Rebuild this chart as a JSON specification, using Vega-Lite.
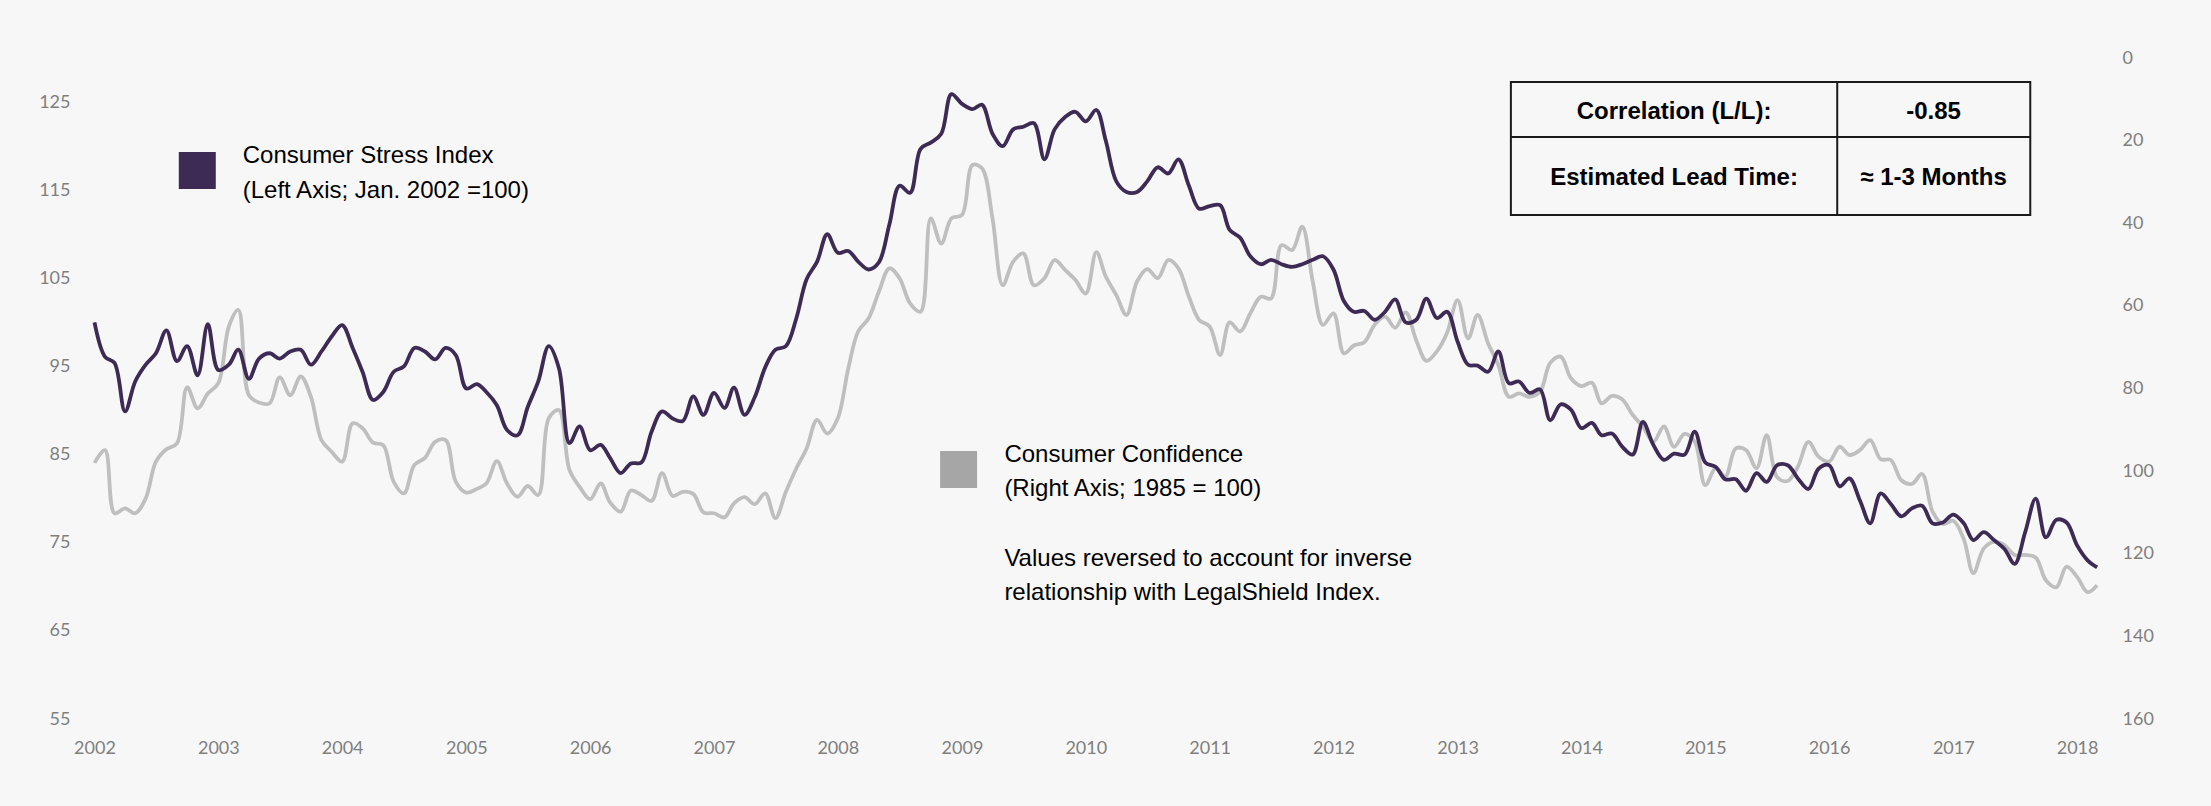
{
  "$schema": "https://vega.github.io/schema/vega-lite/v6.json",
  "width": 2025,
  "height": 661,
  "autosize": {"type": "none"},
  "padding": {"left": 85, "top": 58, "right": 101, "bottom": 87},
  "background": "#f7f7f7",
  "config": {
    "view": {"stroke": null},
    "axis": {"domain": false, "ticks": false, "grid": false, "title": null, "labelFont": "Lato", "labelFontSize": 18, "labelColor": "#7f7f7f"}
  },
  "data": {"values": [
    {"month":"2002-01","stress":100.0,"confidence":98.0},{"month":"2002-02","stress":96.1,"confidence":94.9},{"month":"2002-03","stress":95.4,"confidence":110.2},{"month":"2002-04","stress":89.9,"confidence":109.0},{"month":"2002-05","stress":93.3,"confidence":110.2},{"month":"2002-06","stress":95.2,"confidence":106.6},{"month":"2002-07","stress":96.5,"confidence":97.7},{"month":"2002-08","stress":99.1,"confidence":94.7},{"month":"2002-09","stress":95.6,"confidence":93.3},{"month":"2002-10","stress":97.3,"confidence":79.7},{"month":"2002-11","stress":94.0,"confidence":84.8},{"month":"2002-12","stress":99.8,"confidence":81.2},
    {"month":"2003-01","stress":94.6,"confidence":78.7},{"month":"2003-02","stress":95.2,"confidence":65.0},{"month":"2003-03","stress":96.9,"confidence":61.0},{"month":"2003-04","stress":93.6,"confidence":81.6},{"month":"2003-05","stress":95.9,"confidence":83.4},{"month":"2003-06","stress":96.5,"confidence":83.6},{"month":"2003-07","stress":95.9,"confidence":77.3},{"month":"2003-08","stress":96.7,"confidence":81.6},{"month":"2003-09","stress":96.9,"confidence":77.1},{"month":"2003-10","stress":95.2,"confidence":82.0},{"month":"2003-11","stress":96.7,"confidence":92.5},{"month":"2003-12","stress":98.4,"confidence":95.3},
    {"month":"2004-01","stress":99.7,"confidence":97.7},{"month":"2004-02","stress":97.1,"confidence":88.4},{"month":"2004-03","stress":94.4,"confidence":89.6},{"month":"2004-04","stress":91.2,"confidence":93.1},{"month":"2004-05","stress":92.1,"confidence":93.7},{"month":"2004-06","stress":94.4,"confidence":102.6},{"month":"2004-07","stress":95.0,"confidence":105.4},{"month":"2004-08","stress":97.1,"confidence":98.5},{"month":"2004-09","stress":96.7,"confidence":96.8},{"month":"2004-10","stress":95.8,"confidence":92.9},{"month":"2004-11","stress":97.1,"confidence":92.5},{"month":"2004-12","stress":96.3,"confidence":102.6},
    {"month":"2005-01","stress":92.5,"confidence":105.2},{"month":"2005-02","stress":93.0,"confidence":104.3},{"month":"2005-03","stress":92.1,"confidence":103.0},{"month":"2005-04","stress":90.6,"confidence":97.6},{"month":"2005-05","stress":87.8,"confidence":103.0},{"month":"2005-06","stress":87.2,"confidence":106.2},{"month":"2005-07","stress":90.4,"confidence":103.6},{"month":"2005-08","stress":93.3,"confidence":105.8},{"month":"2005-09","stress":97.3,"confidence":87.2},{"month":"2005-10","stress":94.8,"confidence":85.2},{"month":"2005-11","stress":86.3,"confidence":99.7},{"month":"2005-12","stress":88.2,"confidence":103.8},
    {"month":"2006-01","stress":85.5,"confidence":106.8},{"month":"2006-02","stress":86.1,"confidence":103.0},{"month":"2006-03","stress":84.6,"confidence":107.6},{"month":"2006-04","stress":82.9,"confidence":109.8},{"month":"2006-05","stress":84.0,"confidence":104.7},{"month":"2006-06","stress":84.1,"confidence":105.8},{"month":"2006-07","stress":87.6,"confidence":107.2},{"month":"2006-08","stress":89.9,"confidence":100.5},{"month":"2006-09","stress":89.1,"confidence":106.0},{"month":"2006-10","stress":88.8,"confidence":105.0},{"month":"2006-11","stress":91.6,"confidence":105.5},{"month":"2006-12","stress":89.5,"confidence":110.0},
    {"month":"2007-01","stress":92.0,"confidence":110.2},{"month":"2007-02","stress":90.3,"confidence":111.2},{"month":"2007-03","stress":92.6,"confidence":107.8},{"month":"2007-04","stress":89.5,"confidence":106.3},{"month":"2007-05","stress":91.5,"confidence":108.0},{"month":"2007-06","stress":94.9,"confidence":105.4},{"month":"2007-07","stress":96.9,"confidence":111.4},{"month":"2007-08","stress":97.3,"confidence":105.0},{"month":"2007-09","stress":100.5,"confidence":99.3},{"month":"2007-10","stress":104.9,"confidence":94.5},{"month":"2007-11","stress":106.9,"confidence":87.6},{"month":"2007-12","stress":110.0,"confidence":90.9},
    {"month":"2008-01","stress":107.9,"confidence":87.2},{"month":"2008-02","stress":108.1,"confidence":75.1},{"month":"2008-03","stress":106.9,"confidence":66.2},{"month":"2008-04","stress":106.0,"confidence":63.0},{"month":"2008-05","stress":106.8,"confidence":56.6},{"month":"2008-06","stress":111.1,"confidence":50.9},{"month":"2008-07","stress":115.5,"confidence":53.3},{"month":"2008-08","stress":114.7,"confidence":59.4},{"month":"2008-09","stress":119.7,"confidence":61.4},{"month":"2008-10","stress":120.4,"confidence":38.8},{"month":"2008-11","stress":121.4,"confidence":44.9},{"month":"2008-12","stress":125.9,"confidence":38.8},
    {"month":"2009-01","stress":124.8,"confidence":38.0},{"month":"2009-02","stress":124.2,"confidence":25.9},{"month":"2009-03","stress":124.7,"confidence":26.7},{"month":"2009-04","stress":121.4,"confidence":38.8},{"month":"2009-05","stress":120.0,"confidence":55.0},{"month":"2009-06","stress":121.9,"confidence":49.3},{"month":"2009-07","stress":122.2,"confidence":47.3},{"month":"2009-08","stress":122.6,"confidence":55.0},{"month":"2009-09","stress":118.5,"confidence":53.3},{"month":"2009-10","stress":121.9,"confidence":48.9},{"month":"2009-11","stress":123.3,"confidence":51.3},{"month":"2009-12","stress":123.9,"confidence":53.7},
    {"month":"2010-01","stress":122.8,"confidence":57.0},{"month":"2010-02","stress":124.1,"confidence":47.0},{"month":"2010-03","stress":120.6,"confidence":52.9},{"month":"2010-04","stress":116.0,"confidence":57.4},{"month":"2010-05","stress":114.8,"confidence":62.2},{"month":"2010-06","stress":114.8,"confidence":54.1},{"month":"2010-07","stress":116.0,"confidence":51.1},{"month":"2010-08","stress":117.6,"confidence":53.3},{"month":"2010-09","stress":116.9,"confidence":48.9},{"month":"2010-10","stress":118.5,"confidence":50.9},{"month":"2010-11","stress":115.5,"confidence":57.8},{"month":"2010-12","stress":112.9,"confidence":63.4},
    {"month":"2011-01","stress":113.2,"confidence":65.0},{"month":"2011-02","stress":113.3,"confidence":71.9},{"month":"2011-03","stress":110.5,"confidence":64.0},{"month":"2011-04","stress":109.6,"confidence":66.2},{"month":"2011-05","stress":107.5,"confidence":61.8},{"month":"2011-06","stress":106.6,"confidence":57.8},{"month":"2011-07","stress":107.1,"confidence":58.2},{"month":"2011-08","stress":106.6,"confidence":45.3},{"month":"2011-09","stress":106.3,"confidence":46.5},{"month":"2011-10","stress":106.6,"confidence":40.8},{"month":"2011-11","stress":107.1,"confidence":54.1},{"month":"2011-12","stress":107.5,"confidence":64.6},
    {"month":"2012-01","stress":106.0,"confidence":61.8},{"month":"2012-02","stress":102.4,"confidence":71.5},{"month":"2012-03","stress":101.2,"confidence":69.6},{"month":"2012-04","stress":101.3,"confidence":68.8},{"month":"2012-05","stress":100.3,"confidence":64.6},{"month":"2012-06","stress":101.2,"confidence":62.6},{"month":"2012-07","stress":102.6,"confidence":65.3},{"month":"2012-08","stress":100.0,"confidence":61.6},{"month":"2012-09","stress":100.3,"confidence":68.3},{"month":"2012-10","stress":102.7,"confidence":73.3},{"month":"2012-11","stress":100.5,"confidence":71.0},{"month":"2012-12","stress":101.2,"confidence":66.5},
    {"month":"2013-01","stress":97.8,"confidence":58.6},{"month":"2013-02","stress":95.2,"confidence":67.9},{"month":"2013-03","stress":95.1,"confidence":62.2},{"month":"2013-04","stress":94.4,"confidence":69.1},{"month":"2013-05","stress":96.7,"confidence":74.3},{"month":"2013-06","stress":93.1,"confidence":82.0},{"month":"2013-07","stress":93.3,"confidence":81.2},{"month":"2013-08","stress":92.0,"confidence":82.0},{"month":"2013-09","stress":92.4,"confidence":80.8},{"month":"2013-10","stress":88.9,"confidence":73.8},{"month":"2013-11","stress":90.7,"confidence":72.3},{"month":"2013-12","stress":90.1,"confidence":77.5},
    {"month":"2014-01","stress":88.0,"confidence":79.4},{"month":"2014-02","stress":88.6,"confidence":78.6},{"month":"2014-03","stress":87.2,"confidence":83.6},{"month":"2014-04","stress":87.4,"confidence":81.8},{"month":"2014-05","stress":85.9,"confidence":82.6},{"month":"2014-06","stress":85.0,"confidence":86.4},{"month":"2014-07","stress":88.7,"confidence":89.2},{"month":"2014-08","stress":86.1,"confidence":92.9},{"month":"2014-09","stress":84.4,"confidence":89.2},{"month":"2014-10","stress":85.1,"confidence":94.1},{"month":"2014-11","stress":85.0,"confidence":91.0},{"month":"2014-12","stress":87.6,"confidence":92.9},
    {"month":"2015-01","stress":84.1,"confidence":103.4},{"month":"2015-02","stress":83.6,"confidence":99.3},{"month":"2015-03","stress":82.2,"confidence":101.3},{"month":"2015-04","stress":82.2,"confidence":94.5},{"month":"2015-05","stress":80.9,"confidence":94.9},{"month":"2015-06","stress":82.9,"confidence":99.3},{"month":"2015-07","stress":81.9,"confidence":91.3},{"month":"2015-08","stress":83.8,"confidence":101.5},{"month":"2015-09","stress":83.8,"confidence":102.4},{"month":"2015-10","stress":82.3,"confidence":98.9},{"month":"2015-11","stress":81.1,"confidence":92.9},{"month":"2015-12","stress":83.4,"confidence":96.5},
    {"month":"2016-01","stress":83.8,"confidence":97.7},{"month":"2016-02","stress":81.4,"confidence":94.1},{"month":"2016-03","stress":82.3,"confidence":96.1},{"month":"2016-04","stress":79.8,"confidence":94.9},{"month":"2016-05","stress":77.2,"confidence":92.5},{"month":"2016-06","stress":80.6,"confidence":97.1},{"month":"2016-07","stress":79.4,"confidence":97.3},{"month":"2016-08","stress":78.0,"confidence":102.2},{"month":"2016-09","stress":78.9,"confidence":103.1},{"month":"2016-10","stress":79.2,"confidence":100.7},{"month":"2016-11","stress":77.2,"confidence":109.8},{"month":"2016-12","stress":77.3,"confidence":112.8},
    {"month":"2017-01","stress":78.2,"confidence":112.0},{"month":"2017-02","stress":77.2,"confidence":116.5},{"month":"2017-03","stress":75.3,"confidence":124.7},{"month":"2017-04","stress":76.2,"confidence":118.7},{"month":"2017-05","stress":75.3,"confidence":117.1},{"month":"2017-06","stress":74.3,"confidence":117.9},{"month":"2017-07","stress":72.6,"confidence":120.3},{"month":"2017-08","stress":76.2,"confidence":120.3},{"month":"2017-09","stress":80.0,"confidence":120.9},{"month":"2017-10","stress":75.6,"confidence":126.4},{"month":"2017-11","stress":77.6,"confidence":128.1},{"month":"2017-12","stress":77.3,"confidence":123.1},
    {"month":"2018-01","stress":74.7,"confidence":125.6},{"month":"2018-02","stress":73.0,"confidence":129.3},{"month":"2018-03","stress":72.2,"confidence":127.6}
  ]},
  "layer": [
    {
      "layer": [
        {
          "mark": {"type": "line", "color": "#bfbfbf", "strokeWidth": 3.8, "interpolate": "catmull-rom"},
          "encoding": {
            "x": {"field": "month", "type": "temporal",
                  "scale": {"type": "utc", "domain": [{"year": 2001, "month": 12, "date": 4, "utc": true}, {"year": 2018, "month": 4, "date": 8, "utc": true}]},
                  "axis": {"format": "%Y", "tickCount": {"interval": "year", "step": 1}, "labelPadding": 20, "labelFlush": false, "labelOverlap": false}},
            "y": {"field": "confidence", "type": "quantitative",
                  "scale": {"domain": [0, 160], "reverse": true, "nice": false, "zero": false},
                  "axis": {"orient": "right", "values": [0, 20, 40, 60, 80, 100, 120, 140, 160], "labelPadding": 12}}
          }
        }
      ]
    },
    {
      "layer": [
        {
          "mark": {"type": "line", "color": "#3d2b56", "strokeWidth": 3.8, "interpolate": "catmull-rom"},
          "encoding": {
            "x": {"field": "month", "type": "temporal",
                  "axis": {"format": "%Y", "tickCount": {"interval": "year", "step": 1}, "labelPadding": 20, "labelFlush": false, "labelOverlap": false}},
            "y": {"field": "stress", "type": "quantitative",
                  "scale": {"domain": [55, 130], "nice": false, "zero": false},
                  "axis": {"orient": "left", "values": [55, 65, 75, 85, 95, 105, 115, 125], "labelPadding": 15}}
          }
        },
        {
          "data": {"values": [{}]},
          "mark": {"type": "square", "size": 1369, "color": "#3d2b56", "filled": true, "opacity": 1},
          "encoding": {
            "x": {"datum": {"year": 2002, "month": 10, "date": 31, "utc": true}, "type": "temporal"},
            "y": {"datum": 117.24, "type": "quantitative"}
          }
        },
        {
          "data": {"values": [{}]},
          "mark": {"type": "text", "align": "left", "baseline": "alphabetic", "font": "Liberation Sans", "fontSize": 24, "lineHeight": 35.7, "color": "#000000"},
          "encoding": {
            "x": {"datum": {"year": 2003, "month": 3, "date": 14, "utc": true}, "type": "temporal"},
            "y": {"datum": 118.12, "type": "quantitative"},
            "text": {"value": ["Consumer Stress Index", "(Left Axis; Jan. 2002 =100)"]}
          }
        },
        {
          "data": {"values": [{}]},
          "mark": {"type": "square", "size": 1369, "color": "#a6a6a6", "filled": true, "opacity": 1},
          "encoding": {
            "x": {"datum": {"year": 2008, "month": 12, "date": 22, "utc": true}, "type": "temporal"},
            "y": {"datum": 83.31, "type": "quantitative"}
          }
        },
        {
          "data": {"values": [{}]},
          "mark": {"type": "text", "align": "left", "baseline": "alphabetic", "font": "Liberation Sans", "fontSize": 24, "lineHeight": 34, "color": "#000000"},
          "encoding": {
            "x": {"datum": {"year": 2009, "month": 5, "date": 6, "utc": true}, "type": "temporal"},
            "y": {"datum": 84.19, "type": "quantitative"},
            "text": {"value": ["Consumer Confidence", "(Right Axis; 1985 = 100)"]}
          }
        },
        {
          "data": {"values": [{}]},
          "mark": {"type": "text", "align": "left", "baseline": "alphabetic", "font": "Liberation Sans", "fontSize": 24, "lineHeight": 34, "color": "#000000"},
          "encoding": {
            "x": {"datum": {"year": 2009, "month": 5, "date": 6, "utc": true}, "type": "temporal"},
            "y": {"datum": 72.39, "type": "quantitative"},
            "text": {"value": ["Values reversed to account for inverse", "relationship with LegalShield Index."]}
          }
        },
        {
          "data": {"values": [{}]},
          "mark": {"type": "rect", "fillOpacity": 0, "stroke": "#1a1a1a", "strokeWidth": 2},
          "encoding": {
            "x": {"datum": {"year": 2013, "month": 6, "date": 7, "utc": true}, "type": "temporal"},
            "x2": {"datum": {"year": 2017, "month": 8, "date": 16, "utc": true}},
            "y": {"datum": 127.28, "type": "quantitative"},
            "y2": {"datum": 112.19}
          }
        },
        {
          "data": {"values": [{}]},
          "mark": {"type": "rule", "stroke": "#1a1a1a", "strokeWidth": 2},
          "encoding": {
            "x": {"datum": {"year": 2013, "month": 6, "date": 7, "utc": true}, "type": "temporal"},
            "x2": {"datum": {"year": 2017, "month": 8, "date": 16, "utc": true}},
            "y": {"datum": 121.04, "type": "quantitative"}
          }
        },
        {
          "data": {"values": [{}]},
          "mark": {"type": "rule", "stroke": "#1a1a1a", "strokeWidth": 2},
          "encoding": {
            "x": {"datum": {"year": 2016, "month": 1, "date": 25, "utc": true}, "type": "temporal"},
            "y": {"datum": 127.28, "type": "quantitative"},
            "y2": {"datum": 112.19}
          }
        },
        {
          "data": {"values": [{}]},
          "mark": {"type": "text", "align": "center", "baseline": "alphabetic", "font": "Liberation Sans", "fontSize": 24, "fontWeight": "bold", "color": "#000000"},
          "encoding": {
            "x": {"datum": {"year": 2014, "month": 10, "date": 1, "utc": true}, "type": "temporal"},
            "y": {"datum": 123.08, "type": "quantitative"},
            "text": {"value": "Correlation (L/L):"}
          }
        },
        {
          "data": {"values": [{}]},
          "mark": {"type": "text", "align": "center", "baseline": "alphabetic", "font": "Liberation Sans", "fontSize": 24, "fontWeight": "bold", "color": "#000000"},
          "encoding": {
            "x": {"datum": {"year": 2016, "month": 11, "date": 4, "utc": true}, "type": "temporal"},
            "y": {"datum": 123.08, "type": "quantitative"},
            "text": {"value": "-0.85"}
          }
        },
        {
          "data": {"values": [{}]},
          "mark": {"type": "text", "align": "center", "baseline": "alphabetic", "font": "Liberation Sans", "fontSize": 24, "fontWeight": "bold", "color": "#000000"},
          "encoding": {
            "x": {"datum": {"year": 2014, "month": 10, "date": 1, "utc": true}, "type": "temporal"},
            "y": {"datum": 115.59, "type": "quantitative"},
            "text": {"value": "Estimated Lead Time:"}
          }
        },
        {
          "data": {"values": [{}]},
          "mark": {"type": "text", "align": "center", "baseline": "alphabetic", "font": "Liberation Sans", "fontSize": 24, "fontWeight": "bold", "color": "#000000"},
          "encoding": {
            "x": {"datum": {"year": 2016, "month": 11, "date": 4, "utc": true}, "type": "temporal"},
            "y": {"datum": 115.59, "type": "quantitative"},
            "text": {"value": "≈ 1-3 Months"}
          }
        }
      ]
    }
  ],
  "resolve": {"scale": {"y": "independent"}}
}
